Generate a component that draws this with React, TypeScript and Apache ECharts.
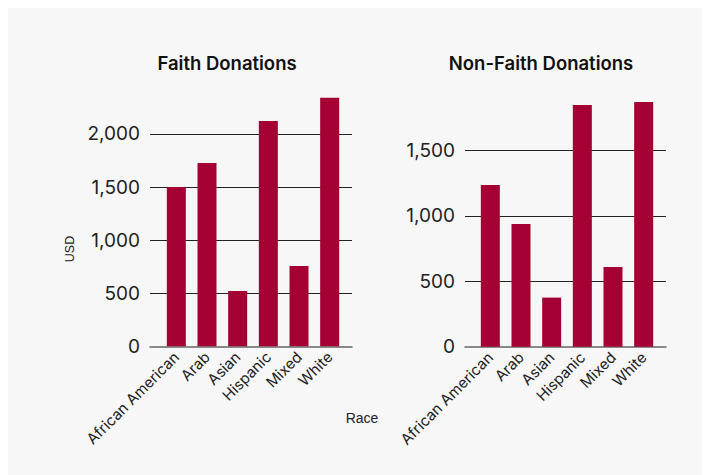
import React, { useEffect, useRef } from "react";
import * as echarts from "echarts";

const categories = ["African American", "Arab", "Asian", "Hispanic", "Mixed", "White"];
const faithValues = [1500, 1727, 521, 2122, 756, 2341];
const nonFaithValues = [1235, 937, 375, 1846, 609, 1869];
const titles = ["Faith Donations", "Non-Faith Donations"];
const yAxisTitle = "USD";
const xAxisTitle = "Race";

const BAR = "#a50034";
const TEXT = "#222222";
const FONT = "Inter, 'Noto Sans', sans-serif";

export default function App() {
  const ref = useRef<HTMLDivElement>(null);
  useEffect(() => {
    if (!ref.current) return;
    const chart = echarts.init(ref.current, null, { renderer: "svg" });
    const faithMax = Math.max(...faithValues);
    const nonFaithMax = Math.max(...nonFaithValues);

    const panels = [
      { wideLeft: 142, wideWidth: 202, narrowLeft: 153, narrowWidth: 184, top: 89.7, height: 248.6, max: faithMax, data: faithValues },
      { wideLeft: 457, wideWidth: 201, narrowLeft: 467, narrowWidth: 184, top: 94, height: 244.7, max: nonFaithMax, data: nonFaithValues },
    ];

    const grid: any[] = [];
    const xAxis: any[] = [];
    const yAxis: any[] = [];
    const series: any[] = [];

    panels.forEach((p) => {
      const wi = grid.length;
      grid.push({ left: p.wideLeft, width: p.wideWidth, top: p.top, height: p.height, containLabel: false });
      const ni = grid.length;
      grid.push({ left: p.narrowLeft, width: p.narrowWidth, top: p.top, height: p.height, containLabel: false });

      xAxis.push({
        type: "value",
        gridIndex: wi,
        min: 0,
        max: 1,
        axisLine: { show: true, onZero: false, lineStyle: { color: "#666666", width: 1.5 } },
        axisTick: { show: false },
        axisLabel: { show: false },
        splitLine: { show: false },
      });
      yAxis.push({
        type: "value",
        gridIndex: wi,
        min: 0,
        max: p.max,
        interval: 500,
        axisLine: { show: false },
        axisTick: { show: false },
        axisLabel: {
          show: true,
          showMaxLabel: false,
          fontSize: 19,
          color: TEXT,
          fontFamily: FONT,
          margin: 10,
          formatter: (v: number) => v.toLocaleString("en-US"),
        },
        splitLine: { show: true, showMinLine: false, showMaxLine: false, lineStyle: { color: "#222222", width: 1 } },
      });

      xAxis.push({
        type: "category",
        gridIndex: ni,
        data: categories,
        axisLine: { show: false },
        axisTick: { show: false },
        axisLabel: {
          rotate: 45,
          interval: 0,
          fontSize: 15,
          color: TEXT,
          fontFamily: FONT,
          margin: 8,
        },
      });
      yAxis.push({
        type: "value",
        gridIndex: ni,
        min: 0,
        max: p.max,
        show: false,
        splitLine: { show: false },
      });

      series.push({
        type: "bar",
        xAxisIndex: ni,
        yAxisIndex: ni,
        data: p.data,
        barWidth: 19,
        itemStyle: { color: BAR },
      });
    });

    const titleStyle = { fontSize: 18.5, fontWeight: 600, color: "#111", fontFamily: FONT };
    chart.setOption({
      animation: false,
      backgroundColor: "#f7f7f7",
      title: [
        { text: titles[0], left: 214, top: 40, textAlign: "center", textStyle: titleStyle },
        { text: titles[1], left: 528, top: 40, textAlign: "center", textStyle: titleStyle },
      ],
      grid,
      xAxis,
      yAxis,
      series,
      graphic: [
        {
          type: "text",
          x: 62,
          y: 241,
          rotation: Math.PI / 2,
          style: { text: yAxisTitle, fontSize: 12.5, fill: TEXT, fontFamily: "'Liberation Sans', Arial, sans-serif", align: "center", verticalAlign: "middle" },
        },
        {
          type: "text",
          x: 354,
          y: 410,
          style: { text: xAxisTitle, fontSize: 14, fill: TEXT, fontFamily: "'Liberation Sans', Arial, sans-serif", align: "center", verticalAlign: "middle" },
        },
      ],
    });
    return () => chart.dispose();
  }, []);
  return <div ref={ref} style={{ width: 702, height: 467 }} />;
}
